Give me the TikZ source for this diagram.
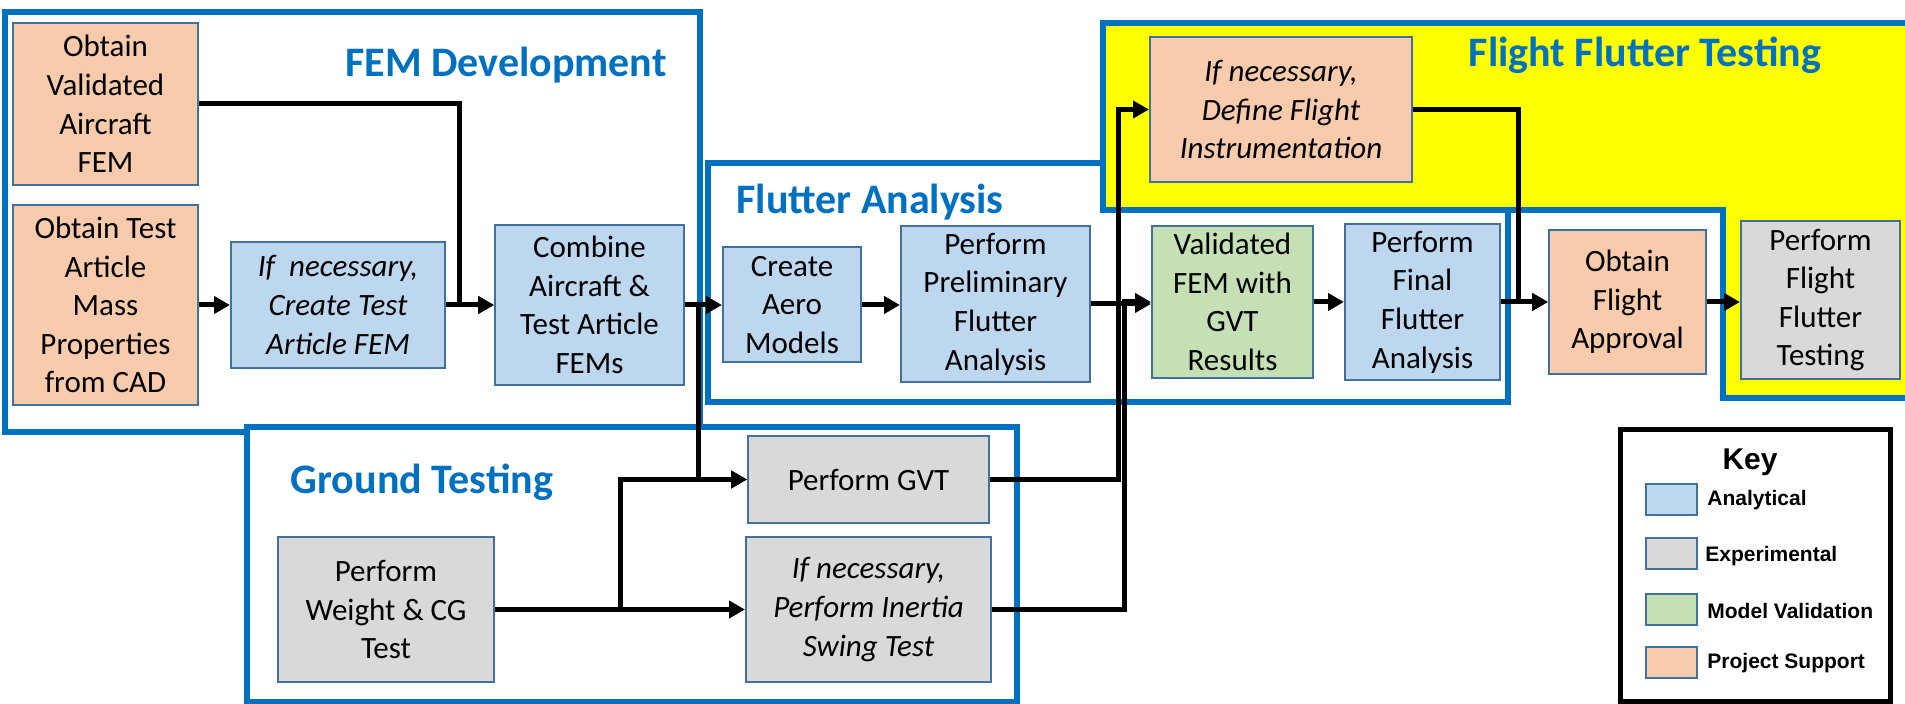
\documentclass[tikz,border=0pt]{standalone}
\usepackage{fontspec}
\setmainfont{Carlito}
\newfontfamily\keyfont{Liberation Sans}
\usetikzlibrary{arrows.meta}
\definecolor{cblue}{HTML}{0070C0}
\definecolor{boxline}{HTML}{41719C}
\definecolor{analytical}{HTML}{BDD7EE}
\definecolor{experimental}{HTML}{D9D9D9}
\definecolor{validation}{HTML}{C5E0B4}
\definecolor{support}{HTML}{F8CBAD}
\definecolor{flightyellow}{HTML}{FFFF00}
\tikzset{
  container/.style={draw=cblue, line width=3pt, fill=white},
  ctitle/.style={text=cblue, font=\fontsize{21}{25}\selectfont\bfseries, inner sep=0pt},
  stepbox/.style={draw=boxline, line width=1pt, inner sep=0pt, align=center,
    font=\fontsize{15.5}{19.3}\selectfont},
  ana/.style={stepbox, fill=analytical},
  expt/.style={stepbox, fill=experimental},
  valbox/.style={stepbox, fill=validation},
  sup/.style={stepbox, fill=support},
  conn/.style={line width=2.5pt, -{Triangle[length=8pt,width=8.5pt]}},
  swatch/.style={draw=boxline, line width=1pt, minimum width=25.5pt, minimum height=15.5pt, inner sep=0pt},
  keylabel/.style={font=\keyfont\fontsize{10.5}{12}\selectfont\bfseries, anchor=west, inner sep=0pt},
}
\begin{document}
\begin{tikzpicture}[x=0.5pt,y=-0.5pt]
\useasboundingbox (0,0) rectangle (1905,704);
% containers
\draw[container] (5,12) rectangle (700,432);
\draw[container] (247,427) rectangle (1017,702);
\draw[container] (708,163) rectangle (1508,402);
\draw[container, fill=flightyellow] (1103,23) -- (1912,23) -- (1912,398) -- (1723,398) -- (1723,210) -- (1103,210) -- cycle;
% container titles
\node[ctitle] (tFEM) at (506,65) {FEM Development};
\node[ctitle] (tFA) at (870,202) {Flutter Analysis};
\node[ctitle] (tGT) at (422,482) {Ground Testing};
\node[ctitle] (tFFT) at (1645,55) {Flight Flutter Testing};
% nodes
\node[sup, minimum width=92.5pt, minimum height=81pt] (oVal) at (105.5,104) {Obtain\\Validated\\Aircraft\\FEM};
\node[sup, minimum width=92.5pt, minimum height=100pt] (oTest) at (105.5,305) {Obtain Test\\Article\\Mass\\Properties\\from CAD};
\node[ana, minimum width=107pt, minimum height=63pt, font=\fontsize{15.5}{19.3}\selectfont\itshape] (cTest) at (338,305) {If\ \ necessary,\\Create Test\\Article FEM};
\node[ana, minimum width=94.5pt, minimum height=80pt] (comb) at (589.5,305) {Combine\\Aircraft \&\\Test Article\\FEMs};
\node[ana, minimum width=69pt, minimum height=57.5pt] (aero) at (792,305) {Create\\Aero\\Models};
\node[ana, minimum width=94.5pt, minimum height=78pt] (prelim) at (995.5,304) {Perform\\Preliminary\\Flutter\\Analysis};
\node[valbox, minimum width=80.5pt, minimum height=76pt] (valid) at (1232.5,302) {Validated\\FEM with\\GVT\\Results};
\node[ana, minimum width=77.5pt, minimum height=78pt] (final) at (1422.5,302) {Perform\\Final\\Flutter\\Analysis};
\node[sup, minimum width=131pt, minimum height=72.5pt, font=\fontsize{15.5}{19.3}\selectfont\itshape] (define) at (1281,109.5) {If necessary,\\Define Flight\\Instrumentation};
\node[sup, minimum width=78.5pt, minimum height=72pt] (approval) at (1627.5,302) {Obtain\\Flight\\Approval};
\node[expt, minimum width=79.5pt, minimum height=79pt] (pflight) at (1820.5,300) {Perform\\Flight\\Flutter\\Testing};
\node[expt, minimum width=120.5pt, minimum height=43.5pt] (gvt) at (868.5,479.5) {Perform GVT};
\node[expt, minimum width=108pt, minimum height=72.5pt] (wcg) at (386,609.5) {Perform\\Weight \& CG\\Test};
\node[expt, minimum width=122.5pt, minimum height=72.5pt, font=\fontsize{15.5}{19.3}\selectfont\itshape] (inertia) at (868.5,609.5) {If necessary,\\Perform Inertia\\Swing Test};
% junction coordinates
\coordinate (jv) at (459,0);
\coordinate (jc) at (698,0);
\coordinate (jw) at (620,0);
\coordinate (jg) at (1118,0);
\coordinate (ji) at (1124,0);
\coordinate (jd) at (1518,0);
% connectors
\draw[conn] (oVal.east) -| (jv |- comb.west) -- (comb.west);
\draw[conn] (oTest.east) -- (cTest.west);
\draw[conn] (cTest.east) -- (comb.west);
\draw[conn] (comb.east) -- (comb.east -| aero.west);
\draw[conn] (comb.east) -| (jc |- gvt.west) -- (gvt.west);
\draw[conn] (aero.east) -- (aero.east -| prelim.west);
\draw[conn] (prelim.east) -- (prelim.east -| valid.west);
\draw[conn] (wcg.east) -- (inertia.west);
\draw[conn] (wcg.east) -| (jw |- gvt.west) -- (gvt.west);
\draw[conn] (gvt.east) -| (jg |- define.west) -- (define.west);
\draw[conn] (inertia.east) -| (ji |- valid.west) -- (valid.west);
\draw[conn] (valid.east) -- (final.west);
\draw[conn] (final.east) -- (final.east -| approval.west);
\draw[conn] (define.east) -| (jd |- approval.west) -- (approval.west);
\draw[conn] (approval.east) -- (approval.east -| pflight.west);
% key
\draw[black, line width=2.5pt] (1620,430) rectangle (1890,701);
\node[font=\keyfont\fontsize{15}{18}\selectfont\bfseries, inner sep=0pt] (keyT) at (1750,462) {Key};
\node[swatch, fill=analytical] (swA) at (1671.5,499.5) {};
\node[swatch, fill=experimental] (swE) at (1671.5,553.5) {};
\node[swatch, fill=validation] (swV) at (1671.5,609.5) {};
\node[swatch, fill=support] (swP) at (1671.5,662.5) {};
\node[keylabel] (lA) at (1707,500) {Analytical};
\node[keylabel] (lE) at (1705,556) {Experimental};
\node[keylabel] (lV) at (1707,611) {Model Validation};
\node[keylabel] (lP) at (1707,663) {Project Support};
\end{tikzpicture}
\end{document}
